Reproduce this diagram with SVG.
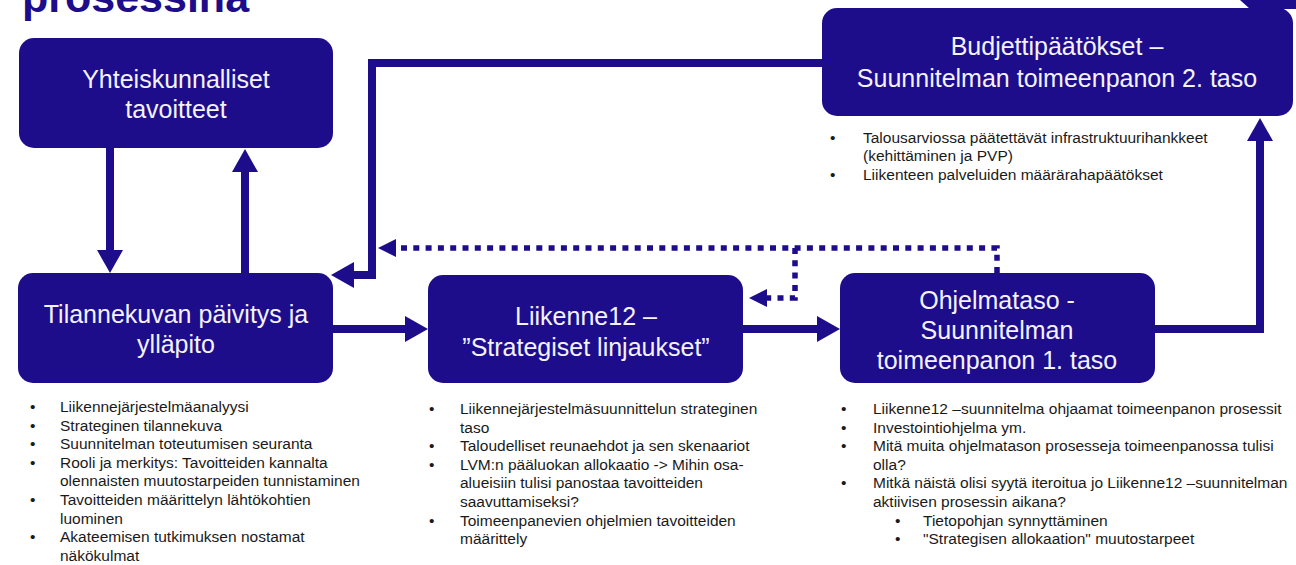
<svg xmlns="http://www.w3.org/2000/svg" width="1296" height="565" viewBox="0 0 1296 565">
<style>
.box{fill:#1d0d8b;}
.bt{font-family:"Liberation Sans",Arial,sans-serif;font-size:25px;fill:#f4f2ff;text-anchor:middle;}
.ls{font-family:"Liberation Sans",Arial,sans-serif;font-size:15.5px;fill:#1a1a1a;}
.title{font-family:"Liberation Sans",Arial,sans-serif;font-size:43px;font-weight:bold;fill:#1d0d8b;}
.c{fill:none;stroke:#1d0d8b;stroke-width:8;}
.d{fill:none;stroke:#1d0d8b;stroke-width:5.5;stroke-dasharray:6 6.3;}
.ah{fill:#1d0d8b;}
</style>
<defs>
<marker id="a" markerUnits="userSpaceOnUse" markerWidth="24" markerHeight="26" refX="1" refY="13" orient="auto" overflow="visible">
<path class="ah" d="M0,0 L23,13 L0,26 Z"/>
</marker>
<marker id="ad" markerUnits="userSpaceOnUse" markerWidth="18" markerHeight="18" refX="1" refY="9" orient="auto" overflow="visible">
<path class="ah" d="M0,0 L18,9 L0,18 Z"/>
</marker>
</defs>
<rect width="1296" height="565" fill="#ffffff"/>
<text class="title" x="22" y="12">prosessina</text>
<polygon class="ah" points="1240,0 1296,0 1296,9 1250,9"/>

<g id="connectors">
<line class="c" x1="110" y1="148" x2="110" y2="251" marker-end="url(#a)"/>
<line class="c" x1="245" y1="273" x2="245" y2="171" marker-end="url(#a)"/>
<polyline class="c" points="822,63 372,63 372,275 353,275" marker-end="url(#a)"/>
<line class="c" x1="333" y1="329" x2="406" y2="329" marker-end="url(#a)"/>
<line class="c" x1="743" y1="329" x2="818" y2="329" marker-end="url(#a)"/>
<polyline class="c" points="1155,329 1260,329 1260,140" marker-end="url(#a)"/>
<polyline class="d" points="997,273 997,248 395,248" marker-end="url(#ad)"/>
<polyline class="d" points="795,248 795,298 766,298" marker-end="url(#ad)"/>
</g>

<g id="n-yhteiskunnalliset">
<rect class="box" x="19" y="38" width="314" height="110" rx="15"/>
<text class="bt" x="176" y="88">Yhteiskunnalliset</text>
<text class="bt" x="176" y="118">tavoitteet</text>
</g>

<g id="n-tilannekuva">
<rect class="box" x="18" y="273" width="315" height="110" rx="15"/>
<text class="bt" x="176" y="323">Tilannekuvan päivitys ja</text>
<text class="bt" x="176" y="353">ylläpito</text>
</g>

<g id="n-liikenne12">
<rect class="box" x="428" y="275" width="315" height="108" rx="15"/>
<text class="bt" x="586" y="325">Liikenne12 –</text>
<text class="bt" x="586" y="356">”Strategiset linjaukset”</text>
</g>

<g id="n-ohjelmataso">
<rect class="box" x="840" y="273" width="315" height="110" rx="15"/>
<text class="bt" x="997" y="309">Ohjelmataso -</text>
<text class="bt" x="997" y="339">Suunnitelman</text>
<text class="bt" x="997" y="369">toimeenpanon 1. taso</text>
</g>

<g id="n-budjetti">
<rect class="box" x="822" y="8" width="471" height="108" rx="15"/>
<text class="bt" x="1057" y="55">Budjettipäätökset –</text>
<text class="bt" x="1057" y="87">Suunnitelman toimeenpanon 2. taso</text>
</g>

<g id="budjetti-bullets" class="ls">
<text x="830" y="143">•</text><text x="863" y="143">Talousarviossa päätettävät infrastruktuurihankkeet</text>
<text x="863" y="161">(kehittäminen ja PVP)</text>
<text x="830" y="180">•</text><text x="863" y="180">Liikenteen palveluiden määrärahapäätökset</text>
</g>

<g id="tilannekuva-bullets" class="ls">
<text x="30" y="412">•</text><text x="60" y="412">Liikennejärjestelmäanalyysi</text>
<text x="30" y="430.6">•</text><text x="60" y="430.6">Strateginen tilannekuva</text>
<text x="30" y="449.2">•</text><text x="60" y="449.2">Suunnitelman toteutumisen seuranta</text>
<text x="30" y="467.8">•</text><text x="60" y="467.8">Rooli ja merkitys: Tavoitteiden kannalta</text>
<text x="60" y="486.4">olennaisten muutostarpeiden tunnistaminen</text>
<text x="30" y="505">•</text><text x="60" y="505">Tavoitteiden määrittelyn lähtökohtien</text>
<text x="60" y="523.6">luominen</text>
<text x="30" y="542.2">•</text><text x="60" y="542.2">Akateemisen tutkimuksen nostamat</text>
<text x="60" y="560.8">näkökulmat</text>
</g>

<g id="liikenne12-bullets" class="ls">
<text x="429" y="414">•</text><text x="460" y="414">Liikennejärjestelmäsuunnittelun strateginen</text>
<text x="460" y="432.6">taso</text>
<text x="429" y="451.2">•</text><text x="460" y="451.2">Taloudelliset reunaehdot ja sen skenaariot</text>
<text x="429" y="469.8">•</text><text x="460" y="469.8">LVM:n pääluokan allokaatio -&gt; Mihin osa-</text>
<text x="460" y="488.4">alueisiin tulisi panostaa tavoitteiden</text>
<text x="460" y="507">saavuttamiseksi?</text>
<text x="429" y="525.6">•</text><text x="460" y="525.6">Toimeenpanevien ohjelmien tavoitteiden</text>
<text x="460" y="544.2">määrittely</text>
</g>

<g id="ohjelmataso-bullets" class="ls">
<text x="841" y="414">•</text><text x="873" y="414">Liikenne12 –suunnitelma ohjaamat toimeenpanon prosessit</text>
<text x="841" y="432.6">•</text><text x="873" y="432.6">Investointiohjelma ym.</text>
<text x="841" y="451.2">•</text><text x="873" y="451.2">Mitä muita ohjelmatason prosesseja toimeenpanossa tulisi</text>
<text x="873" y="469.8">olla?</text>
<text x="841" y="488.4">•</text><text x="873" y="488.4">Mitkä näistä olisi syytä iteroitua jo Liikenne12 –suunnitelman</text>
<text x="873" y="507">aktiivisen prosessin aikana?</text>
<text x="895" y="525.6">•</text><text x="923" y="525.6">Tietopohjan synnyttäminen</text>
<text x="895" y="544.2">•</text><text x="923" y="544.2">"Strategisen allokaation" muutostarpeet</text>
</g>
</svg>
